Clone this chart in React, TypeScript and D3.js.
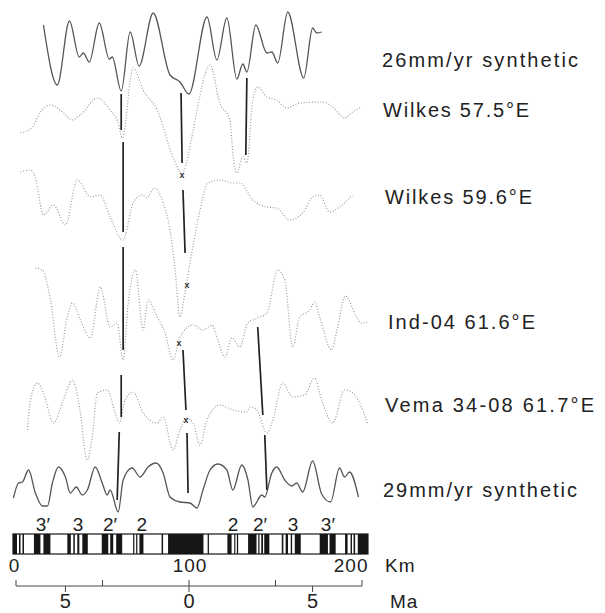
import React, { useRef, useEffect } from 'react';
import * as d3 from 'd3';

type Pt = [number, number]; // [distance km, anomaly nT]

// magnetic anomaly profiles
const synth26: Pt[] = [
  [16.5, 135], [24.4, -165], [31.3, 155], [36.9, -25], [39.2, -5], [42.6, -50], [48.3, 145],
  [54.0, -35], [55.7, -25], [60.8, -195], [65.9, 100], [71.0, -70], [79.0, 195], [88.6, -115],
  [94.3, -150], [99.4, -210], [109.7, 175], [115.3, -40], [121.0, 170], [126.7, -135],
  [130.1, -60], [132.4, -100], [137.5, 135], [143.8, -5], [146.6, 0], [150.0, -55], [155.7, 200],
  [164.8, -130], [169.9, 120], [172.2, 95], [175.0, 100],
];
const wilkes575: Pt[] = [
  [3.4, -65], [10.2, -35], [14.8, 40], [20.5, 75], [27.3, 40], [33.0, 0], [37.5, 25], [47.2, 110],
  [54.5, 50], [59.1, -15], [61.4, -90], [67.6, 260], [73.3, 150], [81.3, 50], [90.3, -185],
  [95.5, -265], [101.1, -85], [104.0, 50], [111.4, 275], [117.0, 85], [122.7, 0], [124.4, -165],
  [126.7, -265], [130.1, -185], [132.4, -215], [135.8, 100], [138.6, 165], [143.8, 115],
  [149.4, 100], [155.1, 60], [162.5, 85], [175.6, 90], [181.3, 65], [188.1, 10], [192.6, 40],
  [197.7, 65],
];
const wilkes596: Pt[] = [
  [3.4, 165], [9.1, 175], [11.9, 135], [16.5, -50], [22.2, 0], [29.0, -100], [35.8, 125],
  [43.2, 40], [48.9, 50], [54.5, -60], [61.9, -175], [67.6, 10], [72.7, 50], [75.6, 35],
  [79.5, 85], [84.7, 10], [88.6, -125], [91.5, -325], [94.3, -560], [97.2, -435], [101.1, -235],
  [105.7, -25], [110.2, 110], [117.0, 125], [124.4, 110], [128.4, 110], [135.8, 25], [143.8, -10],
  [149.4, -15], [156.8, -75], [164.2, -40], [169.9, 40], [173.9, 50], [179.5, -35], [185.2, -10],
  [192.6, 50],
];
const ind04: Pt[] = [
  [11.9, 235], [15.9, 225], [20.5, 75], [25.6, -210], [30.1, -10], [33.0, 60], [37.5, -25],
  [43.2, -115], [48.9, 140], [54.5, -60], [58.5, -40], [61.9, -225], [64.8, 60], [68.8, 225],
  [73.3, -75], [76.1, 75], [81.3, -10], [85.8, -90], [90.3, -225], [94.3, -110], [96.0, -85],
  [101.7, -50], [107.4, -75], [112.5, -50], [115.3, -110], [119.9, -210], [123.9, -115],
  [128.4, -160], [132.9, -40], [138.6, -15], [143.8, 10], [150.0, 225], [154.0, 175],
  [158.5, -160], [162.5, -10], [168.2, 25], [171.0, 65], [173.9, -10], [180.7, -175],
  [183.5, -85], [188.6, 95], [194.9, -10], [197.7, -40], [201.1, -35],
];
const vema3408: Pt[] = [
  [7.4, -75], [9.1, 75], [13.1, 160], [16.5, 110], [22.2, -40], [27.8, 75], [33.0, 175],
  [36.4, 75], [41.5, -225], [44.3, -110], [47.2, 110], [52.8, 125], [57.4, 10], [59.7, -40],
  [63.1, 75], [67.6, 115], [73.3, 10], [81.3, -40], [84.7, -10], [90.3, -175], [94.3, -75],
  [97.7, -15], [101.7, -40], [105.7, -150], [109.7, -25], [117.0, 50], [124.4, 25], [132.4, 15],
  [134.1, 40], [138.1, 25], [143.8, -90], [147.2, -25], [152.8, 160], [158.5, 90], [165.3, 100],
  [171.0, 185], [175.0, 75], [181.3, -40], [188.1, 125], [192.0, 115], [196.6, 60], [201.1, -40],
];
const synth29: Pt[] = [
  [-0.6, -65], [2.3, 10], [4.5, 15], [8.0, 75], [11.9, -40], [15.9, -105], [18.8, -105],
  [21.6, 10], [25.0, 90], [29.0, 40], [31.8, -40], [35.2, -10], [38.6, -50], [41.5, -25],
  [46.0, 90], [50.0, 10], [52.8, -50], [54.5, -25], [59.1, -135], [61.9, 25], [67.0, 85],
  [71.6, 40], [76.1, 90], [80.7, 110], [84.7, 60], [88.6, -60], [94.3, -85], [100.0, -90],
  [104.0, -115], [107.4, -25], [111.4, 75], [115.9, 105], [121.0, 75], [124.4, -25], [129.5, 100],
  [133.0, 25], [135.8, -110], [140.9, -50], [142.6, -60], [146.6, 60], [149.4, 90], [154.0, 25],
  [158.0, -5], [160.8, 10], [164.2, -35], [169.9, 120], [175.0, -45], [180.1, -85], [185.2, 85],
  [188.1, 40], [190.9, 65], [196.0, -60],
];

const profiles = [synth26, wilkes575, wilkes596, ind04, vema3408, synth29];
const profileNames = [
  '26mm/yr synthetic', 'Wilkes 57.5°E', 'Wilkes 59.6°E',
  'Ind-04 61.6°E', 'Vema 34-08 61.7°E', '29mm/yr synthetic',
];
const isSynthetic = [true, false, false, false, false, true];

// correlation lines: [profile, km, nT] -> [profile, km, nT]
const correlations: [number, number, number, number, number, number][] = [
  [0, 60.8, -210, 1, 60.8, -50],
  [1, 61.9, -110, 2, 61.9, -135],
  [2, 61.9, -210, 3, 61.9, -175],
  [3, 60.8, -300, 4, 60.8, -10],
  [4, 59.7, -85, 5, 58.5, -75],
  [0, 94.9, -205, 1, 95.5, -215],
  [1, 96.0, -350, 2, 97.2, -240],
  [3, 96.0, -175, 4, 97.7, 25],
  [4, 98.3, -90, 5, 98.9, -40],
  [0, 132.4, -130, 1, 131.8, -175],
  [3, 138.6, -60, 4, 141.5, 0],
  [4, 142.6, -100, 5, 143.8, -25],
];
// ridge axis picks: [profile, km, nT]
const axisPicks: [number, number, number][] = [
  [1, 95.5, -275], [2, 98.3, -400], [3, 93.7, -140], [4, 97.7, -25],
];

// normal polarity blocks of the reversal sequence, km
const barExtent = [-0.85, 201.4];
const normalBlocks: Pt[] = [
  [-0.85, 1.42], [2.56, 3.41], [4.55, 5.4], [11.08, 14.77], [16.48, 20.45], [30.11, 32.1],
  [33.52, 34.38], [35.8, 36.93], [38.64, 41.76], [49.72, 53.41], [54.55, 56.25], [57.95, 61.36],
  [67.61, 68.3], [69.32, 70.0], [71.19, 73.47], [83.81, 84.66], [87.5, 107.67], [110.06, 110.8],
  [121.3, 123.7], [125.2, 125.85], [126.7, 127.44], [133.1, 137.9], [138.9, 139.6], [140.6, 141.6],
  [142.3, 145.2], [152.3, 153.2], [154.5, 155.85], [157.4, 158.2], [159.7, 163.1], [173.9, 178.6],
  [179.5, 183.0], [188.35, 189.8], [191.5, 192.3], [193.2, 194.1], [195.6, 201.4],
];
const chronNames = ['3′', '3', '2′', '2', '2', '2′', '3', '3′'];
const chronKm = [16.2, 36.2, 54.4, 72.6, 124.5, 139.9, 158.7, 178.6];

const kmTicks = [0, 100, 200];
const maTicks = [-5, 0, 5];
const maMinorTicks = [-3.5, 3.5];
const maExtent = [-7, 7];

const W = 605;
const H = 613;
const FONT = '"Liberation Sans", Arial, Helvetica, sans-serif';
const rowBase = [52, 120, 205, 315, 415, 485];
const labelPos = [
  { x: 382, y: 67, w: 196 }, { x: 383, y: 117, w: 146 }, { x: 385, y: 204, w: 147 },
  { x: 388, y: 329, w: 147 }, { x: 385, y: 412, w: 209 }, { x: 383, y: 497, w: 194 },
];

const App = () => {
  const svgRef = useRef<SVGSVGElement>(null);

  useEffect(() => {
    if (!svgRef.current) return;
    const svg = d3.select(svgRef.current);
    svg.selectAll('*').remove();

    const x = d3.scaleLinear().domain([0, 200]).range([14.5, 365.5]);
    const yRow = (i: number) =>
      d3.scaleLinear().domain([-500, 500]).range([rowBase[i] + 100, rowBase[i] - 100]);

    // profiles
    profiles.forEach((data, i) => {
      const y = yRow(i);
      const line = d3.line<Pt>()
        .x(d => x(d[0]))
        .y(d => y(d[1]))
        .curve(d3.curveMonotoneX);
      svg.append('path')
        .attr('d', line(data))
        .attr('fill', 'none')
        .attr('stroke', isSynthetic[i] ? '#555' : '#9a9a9a')
        .attr('stroke-width', isSynthetic[i] ? 1.3 : 1.2)
        .attr('stroke-dasharray', isSynthetic[i] ? null : '1 1.8');

      svg.append('text')
        .attr('x', labelPos[i].x)
        .attr('y', labelPos[i].y)
        .attr('textLength', labelPos[i].w)
        .attr('lengthAdjust', 'spacing')
        .attr('font-family', FONT)
        .attr('font-size', 20)
        .attr('fill', '#222')
        .text(profileNames[i]);
    });

    // correlation lines
    correlations.forEach(([r1, k1, v1, r2, k2, v2]) => {
      svg.append('line')
        .attr('x1', x(k1)).attr('y1', yRow(r1)(v1))
        .attr('x2', x(k2)).attr('y2', yRow(r2)(v2))
        .attr('stroke', '#222')
        .attr('stroke-width', 1.7);
    });

    axisPicks.forEach(([r, k, v]) => {
      svg.append('text')
        .attr('x', x(k)).attr('y', yRow(r)(v))
        .attr('dy', '0.3em')
        .attr('text-anchor', 'middle')
        .attr('font-family', FONT)
        .attr('font-size', 9)
        .attr('font-weight', 'bold')
        .attr('fill', '#333')
        .text('x');
    });

    // polarity bar
    const barY = 534, barH = 20;
    svg.append('rect')
      .attr('x', x(barExtent[0])).attr('y', barY)
      .attr('width', x(barExtent[1]) - x(barExtent[0])).attr('height', barH)
      .attr('fill', '#fff');
    svg.selectAll('.block')
      .data(normalBlocks)
      .enter()
      .append('rect')
      .attr('class', 'block')
      .attr('x', d => x(d[0]))
      .attr('y', barY)
      .attr('width', d => x(d[1]) - x(d[0]))
      .attr('height', barH)
      .attr('fill', '#161616');
    svg.append('rect')
      .attr('x', x(barExtent[0])).attr('y', barY)
      .attr('width', x(barExtent[1]) - x(barExtent[0])).attr('height', barH)
      .attr('fill', 'none')
      .attr('stroke', '#161616')
      .attr('stroke-width', 1.2);

    chronNames.forEach((t, i) => {
      svg.append('text')
        .attr('x', x(chronKm[i])).attr('y', barY - 3)
        .attr('text-anchor', 'middle')
        .attr('font-family', FONT)
        .attr('font-size', 19)
        .attr('fill', '#222')
        .text(t);
    });

    // km labels
    kmTicks.forEach((k, i) => {
      const last = i === kmTicks.length - 1;
      svg.append('text')
        .attr('x', last ? x(k) + 3 : x(k))
        .attr('y', 572)
        .attr('text-anchor', last ? 'end' : 'middle')
        .attr('font-family', FONT)
        .attr('font-size', 19)
        .attr('letter-spacing', 1)
        .attr('fill', '#222')
        .text(k);
    });
    svg.append('text')
      .attr('x', 385).attr('y', 572)
      .attr('font-family', FONT).attr('font-size', 19).attr('letter-spacing', 1)
      .attr('fill', '#222')
      .text('Km');

    // Ma axis
    const ma = d3.scaleLinear().domain(maExtent).range([16, 362]);
    const axY = 586;
    svg.append('line')
      .attr('x1', ma(maExtent[0])).attr('x2', ma(maExtent[1]))
      .attr('y1', axY).attr('y2', axY)
      .attr('stroke', '#444').attr('stroke-width', 1);
    const tick = (v: number, up: number, down: number) =>
      svg.append('line')
        .attr('x1', ma(v)).attr('x2', ma(v))
        .attr('y1', axY - up).attr('y2', axY + down)
        .attr('stroke', '#444').attr('stroke-width', 1);
    maExtent.forEach(v => tick(v, 6, 0));
    maMinorTicks.forEach(v => tick(v, 6, 0));
    maTicks.forEach(v => tick(v, v === 0 ? 6 : 0, 6));
    maTicks.forEach(v => {
      svg.append('text')
        .attr('x', ma(v)).attr('y', 608)
        .attr('text-anchor', 'middle')
        .attr('font-family', FONT)
        .attr('font-size', 20)
        .attr('fill', '#222')
        .text(Math.abs(v));
    });
    svg.append('text')
      .attr('x', 390).attr('y', 608)
      .attr('font-family', FONT).attr('font-size', 19).attr('letter-spacing', 1)
      .attr('fill', '#222')
      .text('Ma');
  }, []);

  return (
    <svg
      ref={svgRef}
      width={W}
      height={H}
      style={{ position: 'absolute', left: 0, top: 0, background: '#fff' }}
    />
  );
};

export default App;
